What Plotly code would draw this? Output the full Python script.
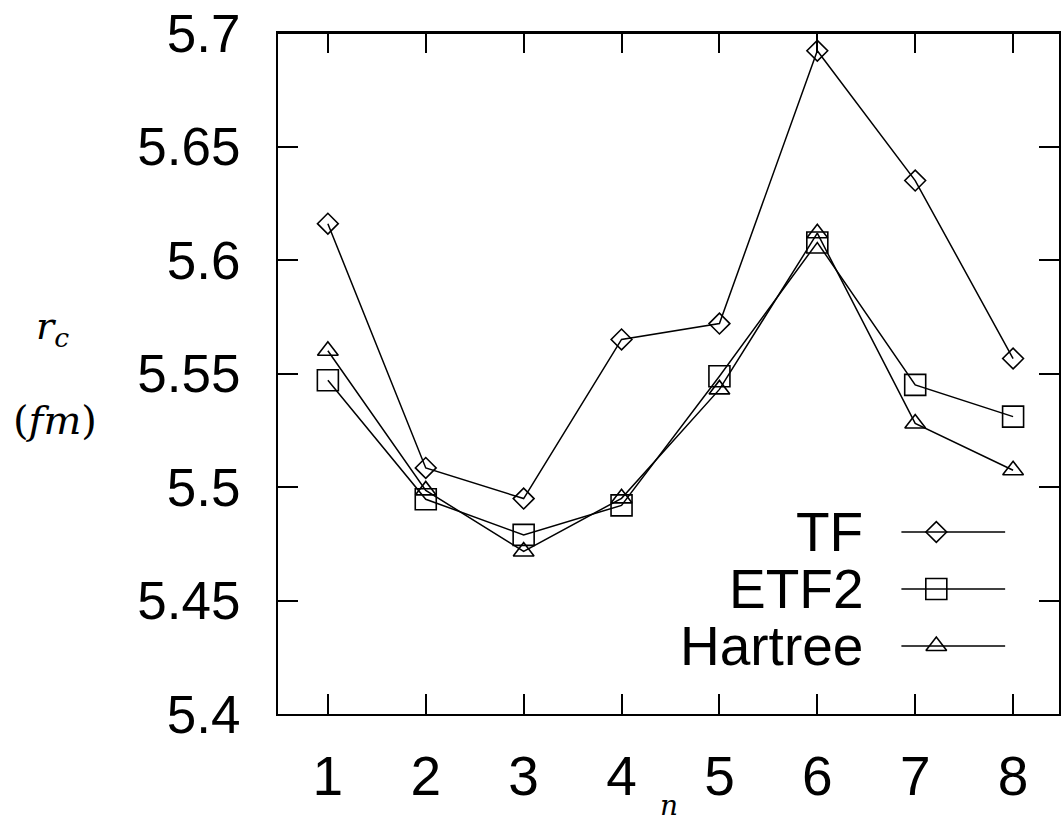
import plotly.graph_objects as go

# Shell index n and charge radius r_c (fm) for three models
n_values = [1, 2, 3, 4, 5, 6, 7, 8]
tf_radius = [5.616, 5.5084, 5.4949, 5.565, 5.572, 5.6922, 5.635, 5.5566]
etf2_radius = [5.547, 5.4946, 5.4789, 5.4919, 5.5488, 5.6077, 5.545, 5.531]
hartree_radius = [5.560, 5.4985, 5.4716, 5.495, 5.543, 5.6118, 5.528, 5.5074]

series_names = ["TF", "ETF2", "Hartree"]
series_symbols = ["diamond-open", "square-open", "triangle-up-open"]
series_sizes = [16, 21, 18]
y_tick_values = [5.4, 5.45, 5.5, 5.55, 5.6, 5.65, 5.7]
y_tick_labels = ["5.4", "5.45", "5.5", "5.55", "5.6", "5.65", "5.7"]

W, H = 1061, 828
L, T, B = 278, 33, 114


def px_to_paper(px, py):
    """Convert page pixel positions to paper fractions."""
    return (px - L) / (W - L), (H - B - py) / (H - B - T)


fig = go.Figure()

for name, ys, sym, sz in zip(series_names, [tf_radius, etf2_radius, hartree_radius],
                             series_symbols, series_sizes):
    fig.add_trace(go.Scatter(
        x=n_values, y=ys, mode="lines+markers", name=name,
        line=dict(color="black", width=1.5),
        marker=dict(symbol=sym, size=sz, color="black",
                    line=dict(color="black", width=1.6)),
        showlegend=False, cliponaxis=False,
    ))

# Key drawn inside the frame on a pixel-scaled overlay axis pair
key_rows = [532, 589, 646]
for name, sym, sz, yk in zip(series_names, series_symbols, series_sizes, key_rows):
    fig.add_trace(go.Scatter(
        x=[903, 1007], y=[yk, yk], mode="lines", xaxis="x2", yaxis="y2",
        line=dict(color="black", width=1.5), showlegend=False, hoverinfo="skip"))
    fig.add_trace(go.Scatter(
        x=[938], y=[yk], mode="markers", xaxis="x2", yaxis="y2",
        marker=dict(symbol=sym, size=sz, color="black",
                    line=dict(color="black", width=1.6)),
        showlegend=False, hoverinfo="skip"))
    fig.add_annotation(x=866, y=yk, xref="x2", yref="y2", text=name,
                       showarrow=False, xanchor="right", yanchor="middle",
                       font=dict(family="Liberation Sans, Arial", size=55, color="black"))

fig.update_layout(
    width=W, height=H,
    margin=dict(l=L, r=0, t=T, b=B, pad=0),
    paper_bgcolor="white", plot_bgcolor="white",
    font=dict(family="Liberation Sans, Arial", color="black"),
    xaxis=dict(
        range=[0.4905, 8.469], tickvals=n_values, ticktext=[str(v) for v in n_values],
        ticks="inside", ticklen=20, tickwidth=2, tickcolor="black",
        showline=True, linewidth=2, linecolor="black", mirror="ticks",
        showgrid=False, zeroline=False,
        tickfont=dict(size=55, family="Liberation Sans, Arial"),
        ticklabelstandoff=13,
    ),
    yaxis=dict(
        range=[5.4, 5.7], tickvals=y_tick_values, ticktext=y_tick_labels,
        ticks="inside", ticklen=20, tickwidth=2, tickcolor="black",
        showline=True, linewidth=2, linecolor="black", mirror="ticks",
        showgrid=False, zeroline=False,
        tickfont=dict(size=53, family="Liberation Sans, Arial"),
        ticklabelstandoff=25,
    ),
    xaxis2=dict(range=[L, W], overlaying="x", visible=False, fixedrange=True),
    yaxis2=dict(range=[H - B, T], overlaying="y", visible=False, fixedrange=True),
)

# Top frame line (the right side carries ticks only)
fig.add_shape(type="line", xref="paper", yref="paper", x0=0, x1=1, y0=1, y1=1,
              line=dict(color="black", width=2))

# Axis titles in math italics
for text, (px, py), size in [("<i>r</i><sub><i>c</i></sub>", (52, 328), 38),
                             ("(<i>fm</i>)", (54, 420), 40),
                             ("<i>n</i>", (670, 805), 28)]:
    ax, ay = px_to_paper(px, py)
    fig.add_annotation(x=ax, y=ay, xref="paper", yref="paper", text=text,
                       showarrow=False, xanchor="center", yanchor="middle",
                       font=dict(family="DejaVu Serif", size=size, color="black"))

fig.write_html("out.html")
